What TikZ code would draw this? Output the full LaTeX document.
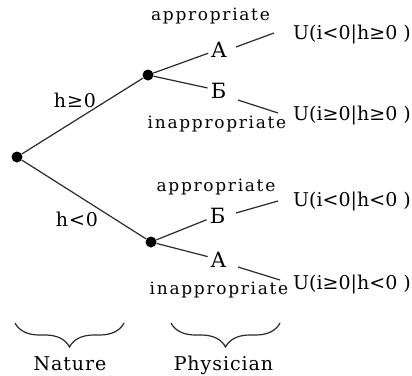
\documentclass[tikz,border=0pt]{standalone}
\usepackage{fontspec}
\setmainfont{DejaVu Serif}
\usetikzlibrary{decorations.pathreplacing}
\definecolor{ink}{HTML}{2A2A2A}
\begin{document}
\begin{tikzpicture}[x=1pt,y=-1pt,
  dot/.style={circle,fill=black,inner sep=0pt,minimum size=11pt},
  edge/.style={line width=1.2pt,ink},
  lbl/.style={inner sep=0pt,anchor=base,font=\fontsize{19}{22}\selectfont\addfontfeature{LetterSpace=5}},
  act/.style={inner sep=3pt,font=\fontsize{21}{24}\selectfont},
  small/.style={inner sep=0pt,anchor=base,font=\fontsize{17}{20}\selectfont\addfontfeature{LetterSpace=10}},
  pay/.style={inner sep=0pt,anchor=base west,font=\fontsize{19}{22}\selectfont},
  brc/.style={decorate,decoration={brace,mirror,amplitude=24pt},line width=1.2pt,ink}]
\useasboundingbox (0,0) rectangle (412,375);
\node[dot] (r) at (17,157) {};
\node[dot] (u) at (148,75) {};
\node[dot] (l) at (151,242) {};
\draw[edge] (r) -- (u);
\draw[edge] (r) -- (l);
\node[lbl] (hg) at (75,107) {h≥0};
\node[lbl] (hl) at (77,226) {h<0};
% upper
\node[act,anchor=base] (ua) at (219,57) {A};
\node[act,anchor=base] (ub) at (218.5,98) {Б};
\node[small] (uap) at (210.5,20) {appropriate};
\node[small] (uin) at (217,128) {inappropriate};
\node[pay] (p1) at (293,39) {U(i<0|h≥0 )};
\node[pay] (p2) at (293,120) {U(i≥0|h≥0 )};
\draw[edge] (u) -- (ua);
\draw[edge] (u) -- (ub);
\coordinate (a1) at (236,47);
\coordinate (a2) at (274,33);
\coordinate (b1) at (238,100);
\coordinate (b2) at (278,113);
\draw[edge] (a1) -- (a2);
\draw[edge] (b1) -- (b2);
% lower
\node[act,anchor=base] (lb) at (217.5,223) {Б};
\node[act,anchor=base] (la) at (218.5,267) {A};
\node[small] (lap) at (216,191) {appropriate};
\node[small] (lin) at (219,294) {inappropriate};
\node[pay] (p3) at (293,206) {U(i<0|h<0 )};
\node[pay] (p4) at (293,289) {U(i≥0|h<0 )};
\draw[edge] (l) -- (lb);
\draw[edge] (l) -- (la);
\coordinate (c1) at (236,213);
\coordinate (c2) at (278,201);
\coordinate (d1) at (238,267);
\coordinate (d2) at (280,280);
\draw[edge] (c1) -- (c2);
\draw[edge] (d1) -- (d2);
% braces
\coordinate (n1) at (15,323);
\coordinate (n2) at (124,323);
\coordinate (m1) at (171,323);
\coordinate (m2) at (280,323);
\draw[brc] (n1) -- (n2);
\draw[brc] (m1) -- (m2);
\node[lbl] (nat) at (70,370) {Nature};
\node[lbl] (phy) at (223.5,370) {Physician};
\end{tikzpicture}
\end{document}
